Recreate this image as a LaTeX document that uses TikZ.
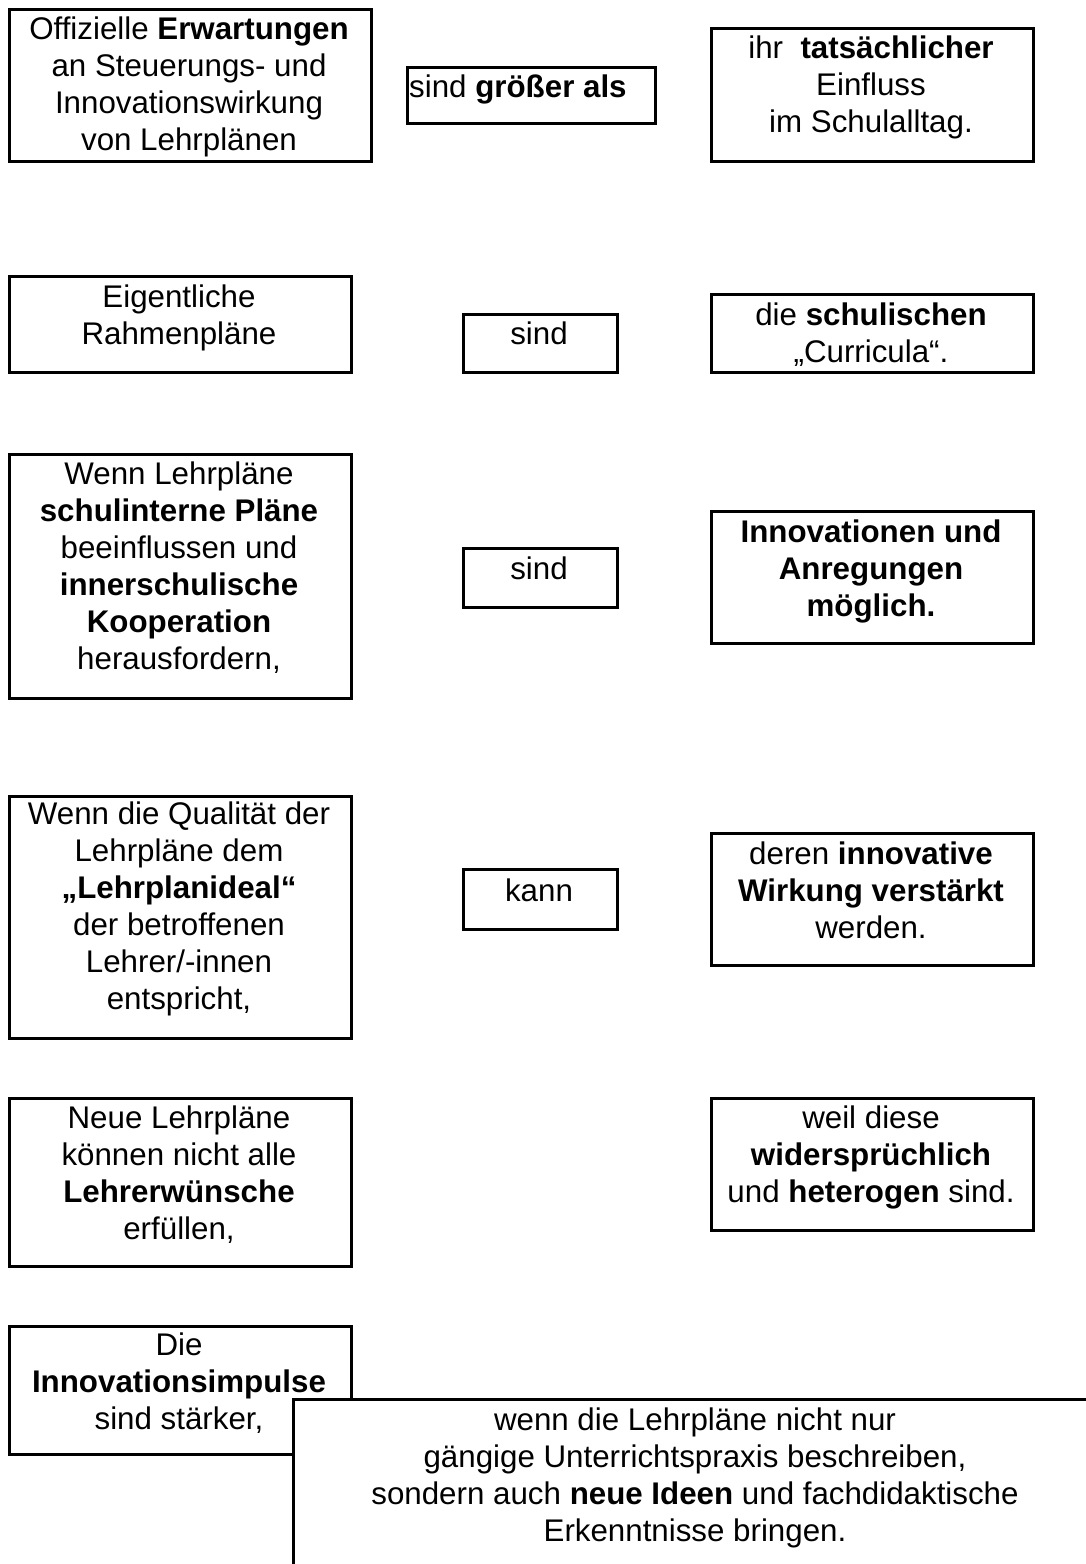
\documentclass[tikz,border=0pt]{standalone}
\usepackage{fontspec}
\setmainfont{Liberation Sans}
\begin{document}
\begin{tikzpicture}[x=1pt,y=-1pt,
  box/.style={draw=black, line width=2.8pt, fill=white, inner sep=0pt, anchor=north west},
  txt/.style={inner sep=0pt, align=center, anchor=north, yshift=-2pt, font=\fontsize{31.3pt}{37pt}\selectfont}]
\useasboundingbox (0,0) rectangle (1085,1564);
% row 1
\node[box, minimum width=362, minimum height=152] (a1) at (8,8) {};
\node[txt] (a1t) at (189,15) {Offizielle \textbf{Erwartungen}\\an Steuerungs- und\\Innovationswirkung\\von Lehrplänen};
\node[box, minimum width=248, minimum height=56] (b1) at (406,66) {};
\node[txt, anchor=north west] (b1t) at (409,73) {sind \textbf{größer als}};
\node[box, minimum width=322, minimum height=133] (c1) at (710,27) {};
\node[txt] (c1t) at (871,34) {ihr\ \ \textbf{tatsächlicher}\\Einfluss\\im Schulalltag.};
% row 2
\node[box, minimum width=342, minimum height=96] (a2) at (8,275) {};
\node[txt] (a2t) at (179,283) {Eigentliche\\Rahmenpläne};
\node[box, minimum width=154, minimum height=58] (b2) at (462,313) {};
\node[txt] (b2t) at (539,320) {sind};
\node[box, minimum width=322, minimum height=78] (c2) at (710,293) {};
\node[txt] (c2t) at (871,301) {die \textbf{schulischen}\\„Curricula“.};
% row 3
\node[box, minimum width=342, minimum height=244] (a3) at (8,453) {};
\node[txt] (a3t) at (179,460) {Wenn Lehrpläne\\\textbf{schulinterne Pläne}\\beeinflussen und\\\textbf{innerschulische}\\\textbf{Kooperation}\\herausfordern,};
\node[box, minimum width=154, minimum height=59] (b3) at (462,547) {};
\node[txt] (b3t) at (539,555) {sind};
\node[box, minimum width=322, minimum height=132] (c3) at (710,510) {};
\node[txt] (c3t) at (871,518) {\textbf{Innovationen und}\\\textbf{Anregungen}\\\textbf{möglich.}};
% row 4
\node[box, minimum width=342, minimum height=242] (a4) at (8,795) {};
\node[txt] (a4t) at (179,800) {Wenn die Qualität der\\Lehrpläne dem\\\textbf{„Lehrplanideal“}\\der betroffenen\\Lehrer/-innen\\entspricht,};
\node[box, minimum width=154, minimum height=60] (b4) at (462,868) {};
\node[txt] (b4t) at (539,877) {kann};
\node[box, minimum width=322, minimum height=132] (c4) at (710,832) {};
\node[txt] (c4t) at (871,840) {deren \textbf{innovative}\\\textbf{Wirkung verstärkt}\\werden.};
% row 5
\node[box, minimum width=342, minimum height=168] (a5) at (8,1097) {};
\node[txt] (a5t) at (179,1104) {Neue Lehrpläne\\können nicht alle\\\textbf{Lehrerwünsche}\\erfüllen,};
\node[box, minimum width=322, minimum height=132] (c5) at (710,1097) {};
\node[txt] (c5t) at (871,1104) {weil diese\\\textbf{widersprüchlich}\\und \textbf{heterogen} sind.};
% row 6
\node[box, minimum width=342, minimum height=128] (a6) at (8,1325) {};
\node[txt] (a6t) at (179,1331) {Die\\\textbf{Innovationsimpulse}\\sind stärker,};
\node[box, minimum width=806, minimum height=180] (d) at (292,1398) {};
\node[txt] (dt) at (695,1406) {wenn die Lehrpläne nicht nur\\gängige Unterrichtspraxis beschreiben,\\sondern auch \textbf{neue Ideen} und fachdidaktische\\Erkenntnisse bringen.};
\end{tikzpicture}
\end{document}
